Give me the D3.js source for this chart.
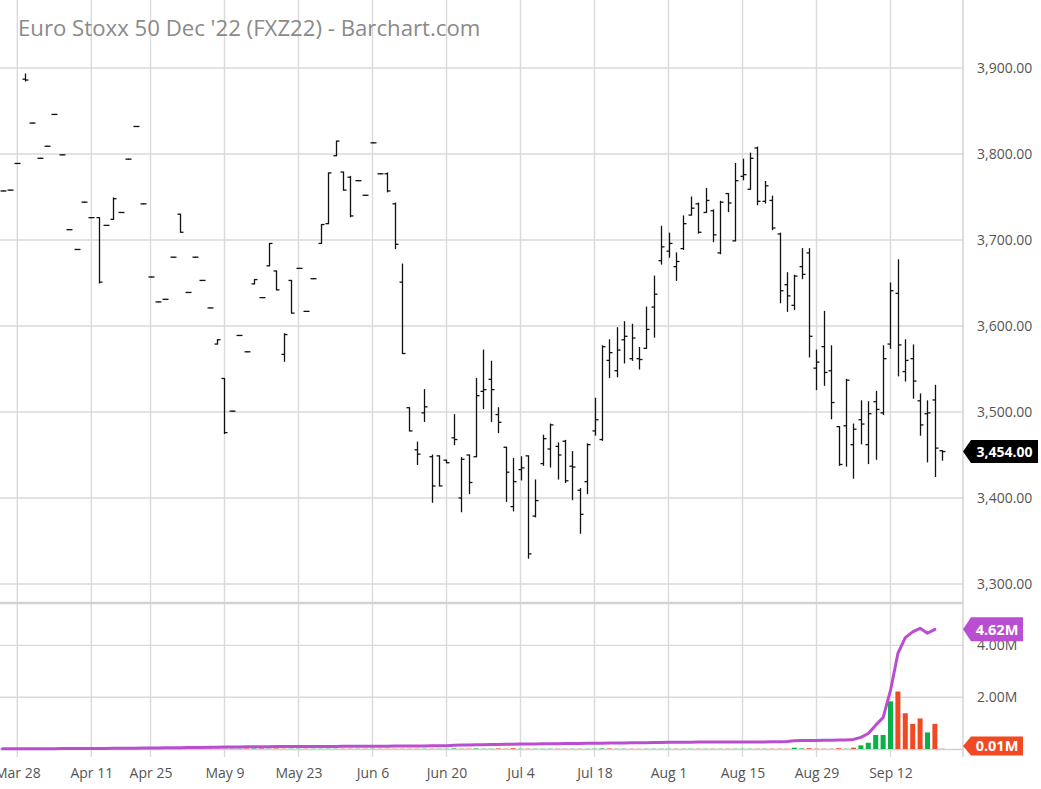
<!DOCTYPE html>
<html><head><meta charset="utf-8">
<script src="https://cdn.jsdelivr.net/npm/d3@7"></script>
<style>html,body{margin:0;padding:0;background:#fff;}svg{display:block;font-family:"Open Sans",sans-serif;}</style>
</head><body><svg id="c" width="1041" height="789"></svg>
<script>
const dates = ["Mar 24","Mar 25","Mar 28","Mar 29","Mar 30","Mar 31","Apr 1","Apr 4","Apr 5","Apr 6","Apr 7","Apr 8","Apr 11","Apr 12","Apr 13","Apr 14","Apr 19","Apr 20","Apr 21","Apr 22","Apr 25","Apr 26","Apr 27","Apr 28","Apr 29","May 2","May 3","May 4","May 5","May 6","May 9","May 10","May 11","May 12","May 13","May 16","May 17","May 18","May 19","May 20","May 23","May 24","May 25","May 26","May 27","May 30","May 31","Jun 1","Jun 2","Jun 3","Jun 6","Jun 7","Jun 8","Jun 9","Jun 10","Jun 13","Jun 14","Jun 15","Jun 16","Jun 17","Jun 20","Jun 21","Jun 22","Jun 23","Jun 24","Jun 27","Jun 28","Jun 29","Jun 30","Jul 1","Jul 4","Jul 5","Jul 6","Jul 7","Jul 8","Jul 11","Jul 12","Jul 13","Jul 14","Jul 15","Jul 18","Jul 19","Jul 20","Jul 21","Jul 22","Jul 25","Jul 26","Jul 27","Jul 28","Jul 29","Aug 1","Aug 2","Aug 3","Aug 4","Aug 5","Aug 8","Aug 9","Aug 10","Aug 11","Aug 12","Aug 15","Aug 16","Aug 17","Aug 18","Aug 19","Aug 22","Aug 23","Aug 24","Aug 25","Aug 26","Aug 29","Aug 30","Aug 31","Sep 1","Sep 2","Sep 5","Sep 6","Sep 7","Sep 8","Sep 9","Sep 12","Sep 13","Sep 14","Sep 15","Sep 16","Sep 19","Sep 20","Sep 21"];

const open = [3757,3758,3789,3887,3836,3795,3809,3846,3799,3712,3689,3744,3726,3726,3717,3724,3732,3794,3832,3742,3657,3628,3631,3680,3730,3639,3680,3653,3621,3579,3539,3501,3589,3570,3649,3633,3670,3664,3567,3653,3667,3617,3655,3696,3719,3798,3779,3773,3769,3752,3813,3777,3777,3742,3651,3505,3456,3499,3448,3449,3444,3470,3400,3450,3448,3524,3538,3497,3459,3390,3433,3449,3379,3440,3457,3460,3466,3437,3409,3419,3478,3468,3560,3548,3584,3562,3562,3574,3622,3676,3687,3669,3690,3729,3742,3732,3734,3685,3754,3699,3774,3759,3807,3745,3746,3707,3648,3624,3669,3685,3551,3576,3548,3483,3484,3462,3491,3462,3512,3499,3579,3638,3547,3562,3513,3498,3514,3455];
const high = [3757,3758,3789,3893,3836,3795,3809,3846,3799,3712,3689,3744,3726,3726,3717,3749,3732,3794,3832,3742,3657,3628,3631,3680,3730,3639,3680,3653,3621,3584,3539,3501,3589,3570,3654,3633,3696,3664,3591,3653,3667,3617,3655,3718,3778,3815,3779,3774,3769,3752,3813,3777,3778,3743,3672,3505,3465,3526,3450,3449,3444,3497,3447,3450,3539,3572,3559,3505,3459,3446,3448,3449,3421,3473,3486,3464,3467,3454,3411,3463,3516,3577,3584,3598,3605,3602,3575,3622,3658,3716,3708,3685,3728,3750,3743,3760,3735,3745,3754,3789,3794,3801,3808,3768,3751,3708,3662,3659,3690,3690,3572,3617,3577,3483,3538,3486,3513,3512,3524,3577,3650,3677,3584,3578,3521,3513,3531,3455];
const low = [3757,3758,3789,3885,3836,3795,3809,3846,3799,3712,3689,3744,3726,3650,3717,3724,3732,3794,3832,3742,3657,3628,3631,3680,3709,3639,3680,3653,3621,3579,3475,3501,3589,3570,3649,3633,3670,3642,3559,3615,3667,3617,3655,3696,3719,3798,3758,3727,3769,3752,3813,3777,3756,3690,3568,3478,3439,3489,3395,3414,3441,3462,3384,3405,3448,3504,3489,3476,3396,3385,3421,3330,3378,3438,3436,3422,3418,3398,3359,3405,3473,3467,3540,3541,3557,3560,3550,3574,3587,3672,3680,3653,3689,3729,3708,3732,3698,3684,3733,3699,3770,3759,3741,3743,3712,3627,3617,3619,3655,3564,3526,3531,3492,3438,3437,3423,3463,3440,3445,3497,3574,3542,3536,3516,3473,3442,3425,3444];
const close = [3757,3758,3789,3886,3836,3795,3809,3846,3799,3712,3689,3744,3726,3651,3717,3748,3732,3794,3832,3742,3657,3628,3631,3680,3709,3639,3680,3653,3621,3584,3476,3501,3589,3570,3654,3633,3696,3642,3590,3615,3667,3617,3655,3718,3778,3815,3758,3728,3769,3752,3813,3777,3757,3695,3568,3478,3451,3506,3414,3414,3441,3468,3445,3418,3519,3526,3526,3488,3430,3419,3435,3335,3397,3469,3485,3450,3420,3436,3381,3462,3491,3576,3569,3572,3588,3586,3561,3596,3637,3692,3696,3675,3719,3737,3709,3746,3706,3744,3743,3769,3776,3795,3745,3763,3714,3641,3635,3658,3660,3588,3558,3546,3511,3439,3537,3480,3486,3498,3503,3562,3641,3578,3560,3536,3485,3499,3458,3454];

// volume (millions)
const volume = [0.01,0.01,0.01,0.01,0.01,0.01,0.01,0.01,0.01,0.01,0.01,0.01,0.01,0.01,0.01,0.01,0.01,0.01,0.01,0.01,0.02,0.01,0.01,0.01,0.01,0.01,0.01,0.01,0.02,0.01,0.01,0.01,0.01,0.02,0.02,0.02,0.01,0.02,0.01,0.01,0.01,0.01,0.01,0.01,0.01,0.01,0.01,0.01,0.01,0.01,0.01,0.01,0.01,0.01,0.01,0.01,0.01,0.01,0.01,0.01,0.01,0.02,0.01,0.01,0.02,0.01,0.01,0.02,0.01,0.03,0.01,0.01,0.01,0.01,0.01,0.01,0.01,0.01,0.01,0.01,0.01,0.02,0.02,0.01,0.01,0.01,0.01,0.01,0.01,0.01,0.01,0.01,0.01,0.01,0.01,0.01,0.01,0.01,0.01,0.01,0.01,0.01,0.01,0.01,0.01,0.01,0.01,0.05,0.02,0.03,0.01,0.01,0.01,0.03,0.01,0.05,0.14,0.24,0.54,0.54,1.84,2.22,1.38,0.97,1.18,0.64,0.97,0.01];
// open interest (millions)
const openInterest = [0.01,0.01,0.01,0.01,0.01,0.01,0.01,0.01,0.02,0.02,0.02,0.02,
0.02,0.02,0.02,0.03,0.03,0.03,0.03,0.04,0.04,
0.04,0.05,0.05,0.05,0.06,0.06,0.06,0.07,0.07,
0.08,0.08,0.08,0.09,0.09,0.09,0.09,0.10,0.10,
0.10,0.10,0.10,0.10,0.10,0.10,0.10,0.11,0.11,0.11,0.11,
0.11,0.11,0.11,0.12,0.12,0.12,0.12,0.12,0.13,0.13,0.13,
0.14,0.15,0.15,0.16,0.16,0.17,0.17,0.18,0.18,0.19,
0.19,0.19,0.20,0.20,0.20,0.21,0.21,0.21,0.22,0.22,
0.22,0.23,0.23,0.23,0.24,0.24,0.24,0.25,0.25,0.26,
0.26,0.26,0.26,0.27,0.27,0.27,0.27,0.27,0.27,0.27,
0.27,0.27,0.27,0.28,0.28,0.29,
0.32,0.33,0.33,0.33,0.34,0.34,0.35,0.35,
0.37,0.45,0.60,0.92,1.21,2.26,3.69,4.30,4.52,4.66,4.47,4.62,null];

const tickDates = ["Mar 28","Apr 11","Apr 25","May 9","May 23","Jun 6","Jun 20","Jul 4","Jul 18","Aug 1","Aug 15","Aug 29","Sep 12"];
const priceTicks = [3300,3400,3500,3600,3700,3800,3900];
const volTicks = [2,4];
const title = "Euro Stoxx 50 Dec '22 (FXZ22) - Barchart.com";

const svg = d3.select("#c");
const W = 1041, H = 789;
const axisX = 963;
const x = d3.scalePoint().domain(dates).range([2.5, 942.3]);
const y = d3.scaleLinear().domain([3300, 3900]).range([584, 68]);
const yv = d3.scaleLinear().domain([0, 4]).range([749, 645.4]);

svg.append("rect").attr("width", W).attr("height", H).attr("fill", "#fff");

const grid = svg.append("g").attr("stroke", "#dadada").attr("stroke-width", 1.4);
grid.selectAll(".vg").data(tickDates).join("line")
  .attr("x1", d => x(d)).attr("x2", d => x(d)).attr("y1", 0).attr("y2", 757);
grid.selectAll(".hg").data(priceTicks).join("line")
  .attr("x1", 0).attr("x2", axisX).attr("y1", d => y(d)).attr("y2", d => y(d));
grid.selectAll(".vgv").data(volTicks).join("line")
  .attr("x1", 0).attr("x2", axisX).attr("y1", d => yv(d)).attr("y2", d => yv(d));
svg.append("line").attr("x1", 0).attr("x2", axisX).attr("y1", yv(0) + 0.5).attr("y2", yv(0) + 0.5)
  .attr("stroke", "#d0d0d0").attr("stroke-width", 1.5);
svg.append("line").attr("x1", 0).attr("x2", axisX).attr("y1", 603).attr("y2", 603)
  .attr("stroke", "#d2d2d2").attr("stroke-width", 2.5);
svg.append("line").attr("x1", axisX).attr("x2", axisX).attr("y1", 0).attr("y2", 757)
  .attr("stroke", "#d0d0d0").attr("stroke-width", 1.4);

// title
svg.append("text").attr("x", 18).attr("y", 35.5).attr("fill", "#8a8a8a")
  .attr("font-size", 22.2).text(title);

// right price axis
const yAxis = d3.axisRight(y).tickValues(priceTicks).tickSize(0).tickPadding(0)
  .tickFormat(d => d3.format(",.2f")(d));
const ya = svg.append("g").attr("transform", `translate(977,0)`).call(yAxis);
ya.select(".domain").remove();
ya.selectAll("text").attr("fill", "#555").attr("font-size", 14).attr("font-family", "Open Sans").attr("x", 0);

// volume axis
const vAxis = d3.axisRight(yv).tickValues(volTicks).tickSize(0).tickPadding(0)
  .tickFormat(d => d3.format(".2f")(d) + "M");
const va = svg.append("g").attr("transform", `translate(977,0)`).call(vAxis);
va.select(".domain").remove();
va.selectAll("text").attr("fill", "#555").attr("font-size", 14).attr("font-family", "Open Sans").attr("x", 0);

// x axis
const xAxis = d3.axisBottom(x).tickValues(tickDates).tickSize(0).tickPadding(0);
const xa = svg.append("g").attr("transform", `translate(0,768)`).call(xAxis);
xa.select(".domain").remove();
xa.selectAll("text").attr("fill", "#555").attr("font-size", 14).attr("font-family", "Open Sans");

// volume bars
const bw = 5;
svg.append("g").selectAll("rect").data(dates).join("rect")
  .attr("x", d => x(d) - bw / 2)
  .attr("width", bw)
  .attr("y", (d, i) => yv(volume[i]))
  .attr("height", (d, i) => yv(0) - yv(volume[i]))
  .attr("fill", (d, i) => (i > 0 && close[i] < close[i - 1]) ? "#f04923" : "#0bb04a");

// open interest line
const oiLine = d3.line()
  .defined((d, i) => openInterest[i] !== null)
  .x(d => x(d)).y((d, i) => yv(openInterest[i]));
svg.append("path").datum(dates).attr("d", oiLine)
  .attr("fill", "none").attr("stroke", "#b94fd0").attr("stroke-width", 3)
  .attr("stroke-linejoin", "round").attr("stroke-linecap", "round");

// OHLC bars
const bars = svg.append("g").attr("stroke", "#111").attr("stroke-width", 1.3).attr("fill", "none");
const tk = 3;
dates.forEach((d, i) => {
  const cx = Math.round(x(d)) + 0.5;
  const g = bars.append("g");
  g.append("line").attr("x1", cx).attr("x2", cx).attr("y1", y(high[i]) - 0.5).attr("y2", y(low[i]) + 0.5);
  g.append("line").attr("x1", cx - tk).attr("x2", cx).attr("y1", y(open[i])).attr("y2", y(open[i]));
  g.append("line").attr("x1", cx).attr("x2", cx + tk).attr("y1", y(close[i])).attr("y2", y(close[i]));
});

// tags
function tag(yc, w, h, fill, label, fs) {
  const x0 = axisX, p = 8;
  const pts = [[x0, yc], [x0 + p, yc - h / 2], [x0 + w, yc - h / 2], [x0 + w, yc + h / 2], [x0 + p, yc + h / 2]];
  svg.append("path").attr("d", d3.line()(pts) + "Z").attr("fill", fill);
  svg.append("text").attr("x", x0 + p + (w - p) / 2).attr("y", yc).attr("dy", "0.36em")
    .attr("text-anchor", "middle").attr("fill", "#fff").attr("font-weight", "bold")
    .attr("font-size", fs).text(label);
}
const last = close[close.length - 1];
tag(y(last), 75, 23, "#000", d3.format(",.2f")(last), 14);
const lastOI = openInterest[openInterest.length - 2];
tag(yv(lastOI), 60, 24, "#b94fd0", d3.format(".2f")(lastOI) + "M", 14.5);
tag(746, 60, 19, "#f04923", d3.format(".2f")(volume[volume.length - 1]) + "M", 14.5);
</script></body></html>
